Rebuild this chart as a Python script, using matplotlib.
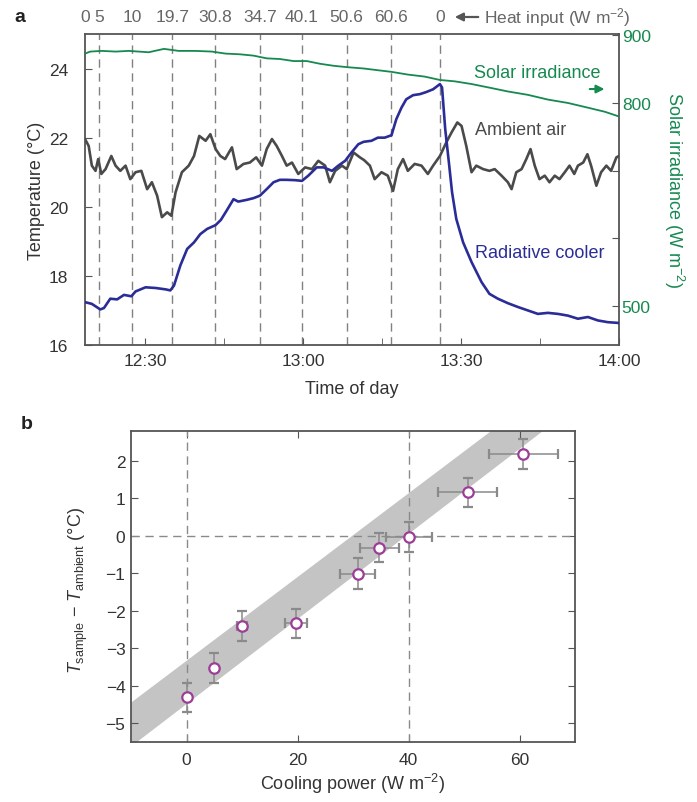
import matplotlib
matplotlib.use("Agg")
import matplotlib.pyplot as plt
import matplotlib.transforms as mtransforms

plt.rcParams["font.family"] = ["Liberation Sans", "DejaVu Sans"]
plt.rcParams["mathtext.fontset"] = "custom"
plt.rcParams["mathtext.rm"] = "Liberation Sans"
plt.rcParams["mathtext.it"] = "Liberation Sans:italic"
plt.rcParams["font.size"] = 12.5

# ---- panel a data (time in minutes after 12:00) ----
cooler_t = [18.6, 19.9, 21.5, 22.2, 23.4, 24.7, 26.0, 27.4, 28.2, 30.1, 32.0, 33.9,
            34.8, 35.5, 36.7, 38.0, 39.3, 40.5, 41.8, 43.4, 44.4, 45.5, 46.8, 47.7,
            49.3, 50.6, 51.8, 53.1, 54.4, 55.6, 56.9, 58.5, 59.8, 61.0, 62.6, 63.9,
            65.5, 66.7, 68.0, 69.2, 70.5, 71.5, 73.0, 74.2, 75.5, 76.8, 77.7, 78.7,
            79.6, 80.9, 82.2, 83.4, 84.7, 86.0, 86.4, 87.0, 87.7, 88.3, 89.1, 90.4,
            92.0, 93.9, 95.4, 97.0, 98.9, 100.8, 102.7, 104.6, 106.5, 108.4, 110.3,
            112.2, 114.1, 116.0, 117.9, 119.8, 120.0]
cooler_T = [17.24, 17.19, 17.03, 17.07, 17.34, 17.32, 17.45, 17.41, 17.55, 17.67, 17.65, 17.61,
            17.58, 17.72, 18.30, 18.78, 18.97, 19.21, 19.36, 19.47, 19.62, 19.89, 20.22, 20.15,
            20.20, 20.25, 20.32, 20.51, 20.71, 20.78, 20.78, 20.77, 20.75, 20.90, 21.14, 21.14,
            21.04, 21.19, 21.33, 21.57, 21.81, 21.88, 21.91, 22.00, 22.00, 22.07, 22.53, 22.87,
            23.11, 23.23, 23.26, 23.32, 23.40, 23.55, 23.45, 22.25, 21.28, 20.42, 19.65, 18.97,
            18.40, 17.82, 17.48, 17.34, 17.21, 17.10, 17.00, 16.90, 16.93, 16.90, 16.85,
            16.76, 16.81, 16.71, 16.66, 16.64, 16.63]

ambient_t = [18.6, 19.3, 19.9, 20.6, 21.1, 21.7, 22.5, 23.6, 24.4, 25.3, 26.3, 27.2,
             28.2, 29.3, 30.4, 31.3, 32.3, 33.2, 34.2, 35.0, 35.8, 37.0, 38.3, 39.3,
             40.3, 41.5, 42.4, 43.4, 44.3, 45.2, 46.5, 47.4, 48.7, 49.9, 51.1, 52.2,
             53.1, 54.1, 55.0, 56.0, 56.9, 57.9, 59.1, 60.4, 61.7, 62.9, 64.2, 65.1,
             66.1, 67.4, 68.3, 69.6, 70.8, 71.6, 72.7, 73.6, 74.9, 76.1, 77.1, 78.0,
             79.0, 79.9, 81.2, 82.5, 83.7, 84.7, 86.0, 87.2, 88.2, 89.3, 90.1, 91.0,
             92.0, 92.9, 94.2, 95.4, 96.4, 97.7, 98.9, 99.6, 100.5, 101.5, 102.4, 103.2,
             104.0, 104.9, 105.9, 106.8, 107.8, 108.7, 109.7, 110.6, 111.5, 112.2, 113.2,
             114.0, 114.7, 115.7, 116.6, 117.6, 118.5, 119.5, 120.0]
ambient_T = [21.96, 21.76, 21.19, 21.04, 21.38, 20.95, 21.09, 21.47, 21.19, 21.04, 21.19, 20.80,
             21.00, 21.04, 20.51, 20.71, 20.32, 19.70, 19.84, 19.74, 20.42, 21.00, 21.19, 21.47,
             22.05, 21.91, 22.10, 21.67, 21.47, 21.38, 21.72, 21.09, 21.24, 21.28, 21.43, 21.19,
             21.67, 21.96, 21.76, 21.47, 21.19, 21.28, 20.95, 21.14, 21.09, 21.33, 21.19, 20.71,
             21.04, 21.19, 21.09, 21.57, 21.43, 21.35, 21.19, 20.80, 21.00, 20.90, 20.46, 21.09,
             21.38, 21.04, 21.24, 21.19, 20.95, 21.19, 21.47, 21.86, 22.15, 22.44, 22.34, 21.76,
             21.00, 21.19, 21.09, 21.04, 21.09, 20.90, 20.71, 20.51, 21.00, 21.09, 21.38, 21.67,
             21.19, 20.80, 20.90, 20.71, 20.90, 20.80, 21.00, 21.19, 20.95, 21.19, 21.28,
             21.52, 21.19, 20.61, 21.00, 21.19, 21.04, 21.43, 21.47]

solar_t = [18.6, 19.6, 21.8, 24.4, 26.9, 30.7, 33.6, 36.4, 39.6, 42.7, 45.3, 48.0,
           50.6, 53.1, 55.6, 58.2, 60.7, 63.2, 65.8, 68.3, 71.5, 73.6, 76.8, 79.9,
           83.1, 86.0, 88.8, 92.0, 95.8, 98.9, 102.7, 106.5, 110.3, 114.1, 117.3, 120.0]
solar_W = [873, 876, 877, 876, 877, 875, 880, 877, 877, 876, 873, 872,
           870, 866, 865, 862, 862, 858, 855, 853, 851, 849, 846, 842,
           839, 834, 832, 828, 822, 817, 812, 805, 800, 793, 787, 780]

# heat input steps
step_t = [21.3, 27.5, 35.2, 43.3, 51.8, 59.8, 68.3, 76.8, 86.0]
heat_labels = ["0", "5", "10", "19.7", "30.8", "34.7", "40.1", "50.6", "60.6", "0"]

time_ticks = [30, 60, 90, 120]
time_labels = ["12:30", "13:00", "13:30", "14:00"]

# ---- panel b data ----
power = [0, 5, 10, 19.7, 30.8, 34.7, 40.1, 50.6, 60.6]
dT = [-4.31, -3.53, -2.40, -2.34, -1.02, -0.32, -0.04, 1.15, 2.17]
power_err = [0, 0.5, 0.9, 1.95, 3.15, 3.55, 4.15, 5.25, 6.2]
dT_err = [0.38, 0.4, 0.4, 0.39, 0.41, 0.39, 0.4, 0.39, 0.4]
band_x = [-10, 70]
band_hi = [-4.43, 4.50]
band_lo = [-5.60, 3.47]

GREEN = "#16894f"
NAVY = "#2a2d96"
GRAY = "#4a4a4a"
TXT = "#333333"
SPINE = "#555555"

fig = plt.figure(figsize=(6.97, 8.03), dpi=100)
W, H = 697, 803


def px_axes(l, t, r, b):
    return fig.add_axes([l / W, 1 - b / H, (r - l) / W, (b - t) / H])


def style(ax):
    for s in ax.spines.values():
        s.set_color(SPINE)
        s.set_linewidth(1.3)


# ---------------- panel a ----------------
ax = px_axes(85, 35, 619, 346)
style(ax)
for t in step_t:
    ax.axvline(t, color="#808080", lw=1, dashes=(6, 4), zorder=1)
ax.plot(ambient_t, ambient_T, color=GRAY, lw=1.9, zorder=3)
ax.plot(cooler_t, cooler_T, color=NAVY, lw=1.9, zorder=4)
ax.set_xlim(18.6, 120)
ax.set_ylim(16, 25)
ax.set_yticks([16, 18, 20, 22, 24])
ax.set_xticks(time_ticks)
ax.set_xticklabels(time_labels)
ax.set_xticks([45, 75, 105], minor=True)
ax.tick_params(axis="both", which="both", direction="in", length=5, colors=SPINE,
               labelcolor=TXT, labelsize=12.5)
ax.tick_params(axis="y", pad=12)
ax.tick_params(axis="x", pad=6)

trans = mtransforms.blended_transform_factory(ax.transData, ax.transAxes)
for t, lab in zip([18.6] + step_t, heat_labels):
    ax.text(t, 1.055, lab, transform=trans, ha="center", va="center",
            color="#666666", fontsize=12.5)

ax2 = ax.twinx()
ax2.plot(solar_t, solar_W, color=GREEN, lw=1.3)
ax2.set_ylim(442, 902)
ax2.set_yticks([500, 600, 700, 800, 900])
ax2.set_yticklabels(["500", "", "", "800", "900"])
ax2.tick_params(axis="y", direction="in", length=5, colors=SPINE, labelcolor=GREEN,
                labelsize=12.5, pad=2)
for s in ax2.spines.values():
    s.set_visible(False)

ax.text(0.728, 0.877, "Solar irradiance", transform=ax.transAxes, color=GREEN,
        ha="left", va="center", fontsize=13)
ax.annotate("", xy=(0.978, 0.823), xytext=(0.94, 0.823), xycoords="axes fraction",
            arrowprops=dict(arrowstyle="-|>", color=GREEN, lw=1.5, mutation_scale=12))
ax.text(0.730, 0.693, "Ambient air", transform=ax.transAxes, color=GRAY,
        ha="left", va="center", fontsize=13)
ax.text(0.730, 0.299, "Radiative cooler", transform=ax.transAxes, color=NAVY,
        ha="left", va="center", fontsize=13)

fig.text(36.7 / W, 1 - 191 / H, "Temperature (°C)", rotation=90, ha="center",
         va="center", color=TXT, fontsize=13)
fig.text(674 / W, 1 - 190 / H, "Solar irradiance (W m$^{-2}$)", rotation=270,
         ha="center", va="center", color=GREEN, fontsize=13)
fig.text(352 / W, 1 - 390 / H, "Time of day", ha="center", va="center",
         color=TXT, fontsize=13)
ax.annotate("", xy=(452 / W, 1 - 18 / H), xytext=(481 / W, 1 - 18 / H),
            xycoords="figure fraction", annotation_clip=False,
            arrowprops=dict(arrowstyle="-|>", color="#555555", lw=1.6, mutation_scale=12))
fig.text(484 / W, 1 - 18 / H, "Heat input (W m$^{-2}$)", ha="left", va="center",
         color="#666666", fontsize=12.5)
fig.text(20 / W, 1 - 17 / H, "a", fontweight="bold", ha="center", va="center",
         fontsize=14, color="#222222")

# ---------------- panel b ----------------
bx = px_axes(131, 431.5, 575.3, 743)
style(bx)
bx.fill_between(band_x, band_lo, band_hi, color="#c4c4c4", lw=0, zorder=1)
bx.axvline(0, color="#8a8a8a", lw=1, dashes=(6, 4), zorder=2)
bx.axvline(40, color="#8a8a8a", lw=1, dashes=(6, 4), zorder=2)
bx.axhline(0, color="#8a8a8a", lw=1, dashes=(6, 4), zorder=2)
bx.errorbar(power, dT, xerr=power_err, yerr=dT_err, fmt="o", ms=7.5, mfc="white",
            mec="#9c3d98", mew=1.6, ecolor="#8a8a8a", elinewidth=1.1, capsize=3.5,
            capthick=1.1, zorder=3)
bx.set_xlim(-10, 70)
bx.set_ylim(-5.5, 2.8)
bx.set_xticks([0, 20, 40, 60])
bx.set_yticks([-5, -4, -3, -2, -1, 0, 1, 2])
bx.tick_params(axis="both", direction="in", length=5, top=True, right=True,
               colors=SPINE, labelcolor=TXT, labelsize=12.5)
bx.tick_params(axis="y", pad=4)
bx.tick_params(axis="x", pad=7)

fig.text(78 / W, 1 - 590 / H,
         r"$T_{\mathrm{sample}}$ − $T_{\mathrm{ambient}}$ (°C)",
         rotation=90, ha="center", va="center", color=TXT, fontsize=13)
fig.text(352 / W, 1 - 784 / H, "Cooling power (W m$^{-2}$)", ha="center",
         va="center", color=TXT, fontsize=13)
fig.text(27 / W, 1 - 425 / H, "b", fontweight="bold", ha="center", va="center",
         fontsize=14, color="#222222")

fig.savefig("out.png", dpi=100)
